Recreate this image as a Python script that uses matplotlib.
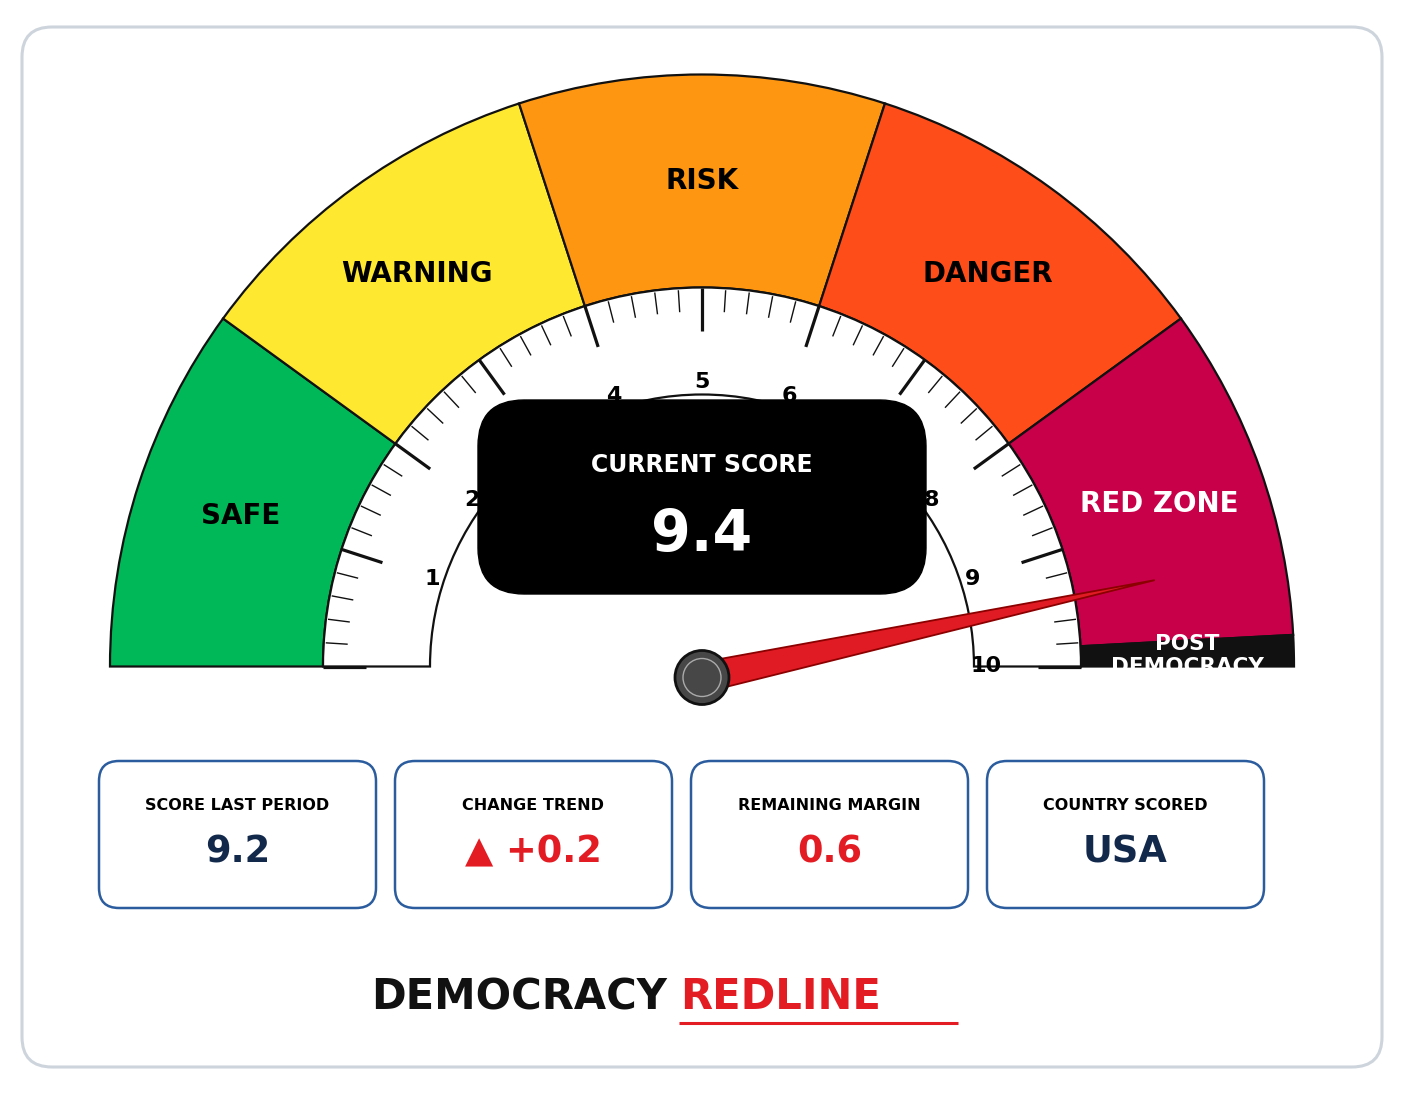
import numpy as np
import matplotlib
matplotlib.use("Agg")
import matplotlib.pyplot as plt
from matplotlib.patches import Wedge, FancyBboxPatch, Polygon, Circle, Rectangle

# ---------------- data ----------------
band_names = ["SAFE", "WARNING", "RISK", "DANGER", "RED ZONE", "POST\nDEMOCRACY"]
band_edges = [0, 2, 4, 6, 8, 9.83, 10]
band_colors = ["#00b857", "#ffe930", "#ff9612", "#ff4d19", "#c8004a", "#111111"]
band_text_colors = ["#000000", "#000000", "#000000", "#000000", "#ffffff", "#ffffff"]
tick_labels = ["1", "2", "3", "4", "5", "6", "7", "8", "9", "10"]
tick_label_values = [1, 2, 3, 4, 5, 6, 7, 8, 9, 10]
score = 9.4
card_titles = ["SCORE LAST PERIOD", "CHANGE TREND", "REMAINING MARGIN", "COUNTRY SCORED"]
card_values = ["9.2", "\u25B2 +0.2", "0.6", "USA"]
card_colors = ["#13294b", "#e31b23", "#e31b23", "#13294b"]
title_left = "DEMOCRACY"
title_right = "REDLINE"

# ---------------- layout ----------------
W, H = 1404, 1096
fig = plt.figure(figsize=(W / 100, H / 100), dpi=100)
ax = fig.add_axes([0, 0, 1, 1])
ax.set_xlim(-702, 702)
ax.set_ylim(-431, 665)
ax.axis("off")

CX, CY = 0.0, -1.5
R_OUT, R_IN, R_TICK_IN = 592, 379, 272
vmin, vmax = 0, 10


def ang(v):
    return 180.0 - (v - vmin) / (vmax - vmin) * 180.0


def pol(r, a_deg):
    a = np.radians(a_deg)
    return CX + r * np.cos(a), CY + r * np.sin(a)


# outer frame
frame = FancyBboxPatch((-680, -402), 1360, 1040,
                       boxstyle="round,pad=0,rounding_size=30",
                       fc="white", ec="#cdd4dc", lw=2.2, zorder=0)
ax.add_patch(frame)

# colored bands
for i, name in enumerate(band_names):
    a1, a2 = ang(band_edges[i + 1]), ang(band_edges[i])
    ax.add_patch(Wedge((CX, CY), R_OUT, a1, a2, width=R_OUT - R_IN,
                       fc=band_colors[i], ec="#111111", lw=1.6, zorder=2))
    rm = (R_OUT + R_IN) / 2
    x, y = pol(rm, (a1 + a2) / 2)
    if "\n" in name:
        t = ax.text(x, y - 2, name, ha="center", va="center", fontsize=15.5,
                    fontweight="bold", color=band_text_colors[i],
                    linespacing=1.2, zorder=4)
        t.set_clip_path(Rectangle((-702, CY), 1404, 700, transform=ax.transData))
    else:
        ax.text(x, y, name, ha="center", va="center", fontsize=20,
                fontweight="bold", color=band_text_colors[i], zorder=4)

# white tick band
ax.add_patch(Wedge((CX, CY), R_IN, 0, 180, width=R_IN - R_TICK_IN,
                   fc="white", ec="#111111", lw=1.6, zorder=2))

# ticks
for k in range(0, 51):
    v = k * 0.2
    a = ang(v)
    if k % 5 == 0:
        r0, r1, lw = R_IN, 336, 2.3
    else:
        r0, r1, lw = 377, 355, 1.0
    x0, y0 = pol(r0, a)
    x1, y1 = pol(r1, a)
    ax.plot([x0, x1], [y0, y1], color="#111111", lw=lw,
            solid_capstyle="butt", zorder=3)

for lab, v in zip(tick_labels, tick_label_values):
    x, y = pol(284, ang(v))
    ax.text(x, y, lab, ha="center", va="center", fontsize=16,
            fontweight="bold", color="#000000", zorder=3)

# center score box
ax.add_patch(FancyBboxPatch((-224, 71), 448, 194,
                            boxstyle="round,pad=0,rounding_size=46",
                            fc="black", ec="black", lw=1, zorder=5))
ax.text(0, 200, "CURRENT SCORE", ha="center", va="center", fontsize=17,
        fontweight="bold", color="white", zorder=6)
ax.text(0, 130, f"{score:.1f}", ha="center", va="center", fontsize=41,
        fontweight="bold", color="white", zorder=6)

# needle
hub = np.array([CX, CY - 11.0])
tip = np.array(pol(461, ang(score)))
a = np.radians(ang(score))
perp = np.array([-np.sin(a), np.cos(a)])
hw = 15
needle = Polygon([hub + hw * perp, tip, hub - hw * perp], closed=True,
                 fc="#e01b24", ec="#8b0000", lw=1.3, zorder=7)
ax.add_patch(needle)
ax.add_patch(Circle(hub, 27, fc="#474747", ec="#111111", lw=2.0, zorder=8))
ax.add_patch(Circle(hub, 19, fc="none", ec="#aaaaaa", lw=1.0, zorder=9))

# cards
card_x0 = [-603, -307, -11, 285]
for x0, t, v, c in zip(card_x0, card_titles, card_values, card_colors):
    ax.add_patch(FancyBboxPatch((x0, -243), 277, 147,
                                boxstyle="round,pad=0,rounding_size=20",
                                fc="white", ec="#2b5c9e", lw=1.8, zorder=2))
    cx = x0 + 277 / 2
    ax.text(cx, -140, t, ha="center", va="center", fontsize=11.5,
            fontweight="bold", color="#000000", zorder=3)
    ax.text(cx, -187, v, ha="center", va="center", fontsize=26.5,
            fontweight="bold", color=c, zorder=3)

# title
ax.text(-35, -332, title_left, ha="right", va="center", fontsize=30,
        fontweight="bold", color="#111111")
ax.text(-22, -332, title_right, ha="left", va="center", fontsize=30,
        fontweight="bold", color="#e31b23")
ax.plot([-23, 256], [-358, -358], color="#e31b23", lw=2.2,
        solid_capstyle="butt")

fig.savefig("out.png", dpi=100, facecolor="white")
